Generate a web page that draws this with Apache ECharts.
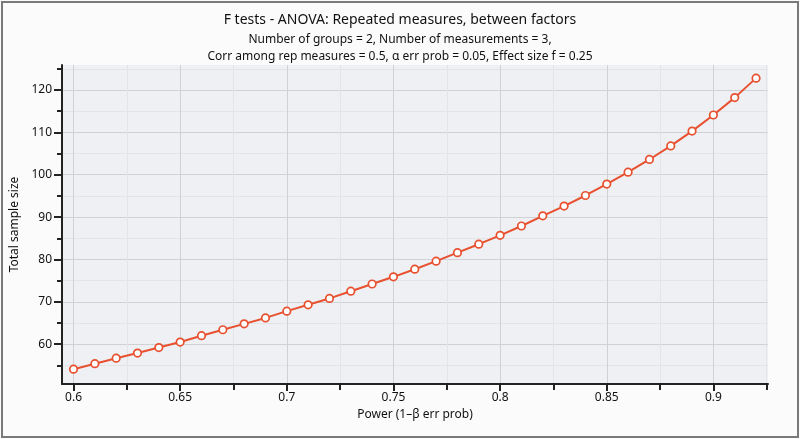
<!DOCTYPE html>
<html>
<head>
<meta charset="utf-8">
<script src="https://cdn.jsdelivr.net/npm/echarts@6/dist/echarts.min.js"></script>
<style>
html,body{margin:0;padding:0;background:#ffffff;}
#chart{width:800px;height:439px;}
</style>
</head>
<body>
<div id="chart"></div>
<script>
const titleText = "F tests - ANOVA: Repeated measures, between factors";
const subtitleLines = ["Number of groups = 2, Number of measurements = 3,", "Corr among rep measures = 0.5, α err prob = 0.05, Effect size f = 0.25"];
const xAxisName = "Power (1\u2013β err prob)";
const yAxisName = "Total sample size";

const powers = [0.60,0.61,0.62,0.63,0.64,0.65,0.66,0.67,0.68,0.69,0.70,0.71,0.72,0.73,0.74,0.75,0.76,0.77,0.78,0.79,0.80,0.81,0.82,0.83,0.84,0.85,0.86,0.87,0.88,0.89,0.90,0.91,0.92];
const sampleSize = [54.1,55.4,56.7,57.9,59.2,60.5,62.0,63.4,64.8,66.2,67.8,69.3,70.8,72.5,74.2,75.9,77.7,79.6,81.6,83.6,85.7,87.9,90.3,92.6,95.1,97.8,100.6,103.6,106.8,110.3,114.1,118.2,122.8];

const xMajorTicks = [0.6,0.65,0.7,0.75,0.8,0.85,0.9];
const xMinorTicks = [0.625,0.675,0.725,0.775,0.825,0.875,0.925];
const yMajorTicks = [60,70,80,90,100,110,120];
const yMinorTicks = [55,65,75,85,95,105,115,125];

const xMin = 0.5946, xMax = 0.9256;
const yMin = 50.6, yMax = 125.9;

const FONT = "Noto Sans";
const chart = echarts.init(document.getElementById('chart'), null, {renderer:'canvas'});

const majorSplit = {show:true, lineStyle:{color:'#cfd1d4', width:1}};
const minorSplit = {show:true, lineStyle:{color:'#e2e4e7', width:1}};

chart.setOption({
  backgroundColor:'#fbfbfb',
  animation:false,
  title:[
    {text:titleText, left:'center', top:8, textStyle:{fontFamily:FONT, fontSize:14, fontWeight:'normal', color:'#111'}},
    {text:subtitleLines[0], left:'center', top:29, textStyle:{fontFamily:FONT, fontSize:12, fontWeight:'normal', color:'#111'}},
    {text:subtitleLines[1], left:'center', top:46, textStyle:{fontFamily:FONT, fontSize:12, fontWeight:'normal', color:'#111'}}
  ],
  graphic:[
    {type:'rect', shape:{x:2, y:2, width:796, height:435}, style:{fill:null, stroke:'#7a7a7a', lineWidth:2}, z:100}
  ],
  grid:{left:62, right:32, top:65, bottom:55, show:true, backgroundColor:'#eef0f3', borderWidth:0},
  xAxis:[
    {type:'value', min:xMin, max:xMax, position:'bottom',
     name:xAxisName, nameLocation:'middle', nameGap:25,
     nameTextStyle:{fontFamily:FONT, fontSize:12, color:'#111'},
     axisLine:{show:true, lineStyle:{color:'#222', width:2}},
     axisTick:{show:true, inside:false, length:7, customValues:xMajorTicks, lineStyle:{color:'#222', width:2}},
     axisLabel:{show:true, customValues:xMajorTicks, fontFamily:FONT, fontSize:12, color:'#111', margin:8, formatter:v=>String(+v.toFixed(3))},
     splitLine:majorSplit},
    {type:'value', min:xMin, max:xMax, position:'bottom',
     axisLine:{show:false},
     axisTick:{show:true, inside:false, length:6, customValues:xMinorTicks, lineStyle:{color:'#222', width:2}},
     axisLabel:{show:false},
     splitLine:minorSplit}
  ],
  yAxis:[
    {type:'value', min:yMin, max:yMax, position:'left',
     name:yAxisName, nameLocation:'middle', nameGap:35,
     nameTextStyle:{fontFamily:FONT, fontSize:12, color:'#111'},
     axisLine:{show:true, lineStyle:{color:'#222', width:2}},
     axisTick:{show:true, inside:false, length:8, customValues:yMajorTicks, lineStyle:{color:'#222', width:2}},
     axisLabel:{show:true, customValues:yMajorTicks, fontFamily:FONT, fontSize:12, color:'#111', margin:10},
     splitLine:majorSplit},
    {type:'value', min:yMin, max:yMax, position:'left',
     axisLine:{show:false},
     axisTick:{show:true, inside:false, length:5, customValues:yMinorTicks, lineStyle:{color:'#222', width:2}},
     axisLabel:{show:false},
     splitLine:minorSplit}
  ],
  series:[{
    type:'line',
    xAxisIndex:0, yAxisIndex:0,
    data:powers.map((p,i)=>[p, sampleSize[i]]),
    symbol:'circle', symbolSize:7.5,
    lineStyle:{color:'#e8502f', width:2},
    itemStyle:{color:'#ffffff', borderColor:'#e8502f', borderWidth:1.7},
    z:10
  }]
});
</script>
</body>
</html>
